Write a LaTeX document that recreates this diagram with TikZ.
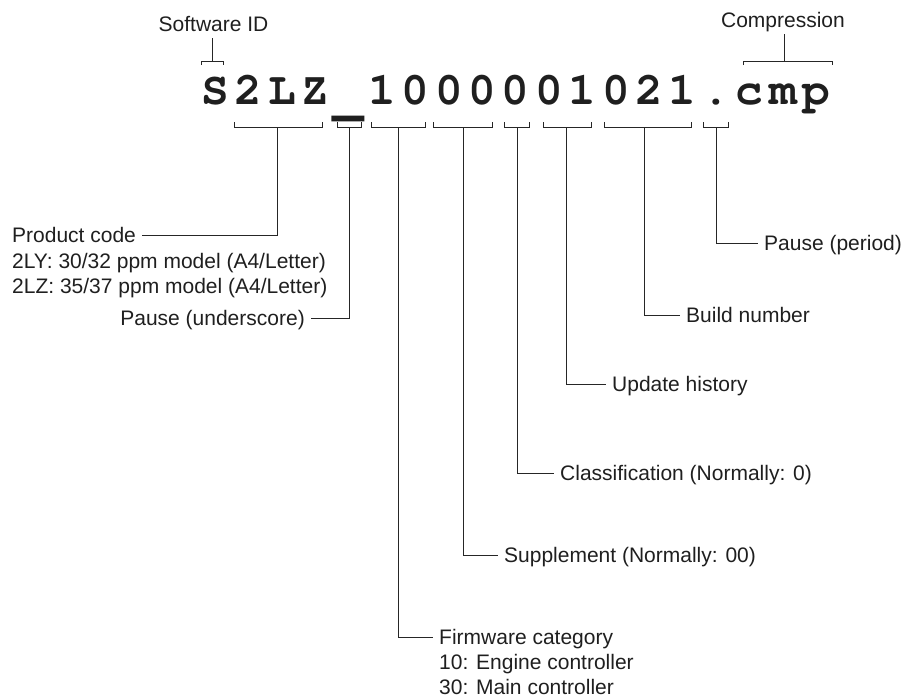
\documentclass[tikz,border=0pt]{standalone}
\usepackage{graphicx}
\usepackage{fontspec}
\setmainfont{Liberation Sans}
\newfontfamily\idfont{texgyrecursor-bold.otf}
\usetikzlibrary{positioning}

\begin{document}
\begin{tikzpicture}[x=1pt, y=-1pt,
  lbl/.style={font=\fontsize{21}{25}\selectfont, text=black!88, inner sep=6pt,
    text height=15pt, text depth=1pt},
  idchar/.style={font=\idfont\fontsize{46}{46}\selectfont,
    text=black!88, inner sep=0pt, anchor=base},
  lead/.style={line width=0.9pt, black!85}]

\useasboundingbox (0,0) rectangle (907,699);

% --- File name, one node per character (the underscore is heavier and lower) ---
\foreach \ch [count=\i from 0] in {S,2,L,Z,{\scalebox{1.15}[2.5]{\_}},1,0,0,0,0,0,1,0,2,1,.,c,m,p}
  \node[idchar, yshift={-3*(\i==4)}] (c\i) at ({215+33.4*\i}, 104) {\ch};

% --- Brackets under the name (left, right, stem) ---
\foreach \a/\b/\m/\n in {234/322/277/pc, 337/361/349/us, 371/425/398/fw,
    433/492/463/sp, 504/529/517/cl, 543/591/566/up, 604/691/644/bn, 703/728/716/pd} {
  \draw[lead] (\a,122) -- (\a,127) -- (\b,127) -- (\b,122);
  \coordinate (s-\n) at (\m,127);
}

% --- Brackets over the name ---
\draw[lead] (201,65) -- (201,61) -- (223,61) -- (223,65);
\coordinate (t-sw) at (212,61);
\draw[lead] (743,65) -- (743,61) -- (832,61) -- (832,65);
\coordinate (t-cm) at (784,61);

% --- Labels on top ---
\node[lbl] (sw) at (213.5,24) {Software ID};
\node[lbl] (cm) at (783,20) {Compression};
\draw[lead] (t-sw) -- (t-sw |- sw.south);
\draw[lead] (t-cm) -- (t-cm |- cm.south);

% --- Labels on the left ---
\node[lbl, anchor=west] (pc) at (6,235) {Product code};
\node[lbl, anchor=west] (pc1) at ([yshift=-26pt]pc.west) {2LY: 30/32 ppm model (A4/Letter)};
\node[lbl, anchor=west] (pc2) at ([yshift=-25pt]pc1.west) {2LZ: 35/37 ppm model (A4/Letter)};
\node[lbl, anchor=east] (us) at (311,318) {Pause (underscore)};
\draw[lead] (pc.east) -| (s-pc);
\draw[lead] (us.east) -| (s-us);

% --- Labels on the right ---
\node[lbl, anchor=west] (pd) at (758,243) {Pause (period)};
\node[lbl, anchor=west] (bn) at (680,315) {Build number};
\node[lbl, anchor=west] (up) at (606,384) {Update history};
\node[lbl, anchor=west] (cl) at (554,473) {Classification (Normally: 0)};
\node[lbl, anchor=west] (sp) at (498,555) {Supplement (Normally: 00)};
\node[lbl, anchor=west] (fw) at (433,637) {Firmware category};
\node[lbl, anchor=west] (fw1) at ([yshift=-25pt]fw.west) {10: Engine controller};
\node[lbl, anchor=west] (fw2) at ([yshift=-25pt]fw1.west) {30: Main controller};
\foreach \n in {pd, bn, up, cl, sp, fw}
  \draw[lead] (s-\n) |- (\n.west);

\end{tikzpicture}
\end{document}
